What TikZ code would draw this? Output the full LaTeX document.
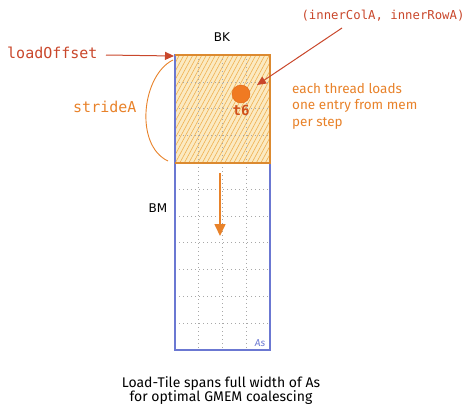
\documentclass[tikz,border=0pt]{standalone}
\usepackage{fontspec}
\setmainfont{Fira Sans}
\newfontfamily\monof{DejaVu Sans Mono}
\newfontfamily\sansf{DejaVu Sans}
\newfontfamily\handf{Fira Sans}
\usetikzlibrary{arrows.meta}
\definecolor{redor}{HTML}{C9472B}
\definecolor{orng}{HTML}{E8822A}
\definecolor{tilefill}{HTML}{FBEAC2}
\definecolor{hatchc}{HTML}{F0B050}
\definecolor{tileedge}{HTML}{DC8A30}
\definecolor{blueb}{HTML}{6B78D2}
\definecolor{gridc}{HTML}{A8A8A8}
\definecolor{dotfill}{HTML}{F07A22}
\definecolor{dotedge}{HTML}{E06414}
\definecolor{tsix}{HTML}{D0501A}
\tikzset{
  gridline/.style={gridc, line width=0.6pt, dash pattern=on 1pt off 3pt},
  monolabel/.style={font=\monof, inner sep=0pt},
  handtext/.style={font=\handf, inner sep=0pt},
  arr/.style={line width=1pt, -{Triangle[length=9pt,width=8pt]}},
}
\begin{document}
\begin{tikzpicture}[x=1pt,y=-1pt]
\useasboundingbox (0,0) rectangle (474,416);
% tile fill and hatch
\fill[tilefill] (175,55) rectangle (270,163);
\begin{scope}
  \clip (175,55) rectangle (270,163);
  \foreach \i in {0,...,45} {
    \draw[hatchc, line width=0.6pt] ({95+\i*4.5},170) -- ({95+\i*4.5+70},40);
  }
\end{scope}
% grid
\foreach \x in {198.75,222.5,246.25} \draw[gridline] (\x,55) -- (\x,350);
\foreach \k in {1,...,10} \draw[gridline] (175,{55+\k*26.82}) -- (270,{55+\k*26.82});
% outer rect
\draw[blueb, line width=1.3pt] (175,55) rectangle (270,350);
\draw[tileedge, line width=1.3pt] (175,55) -- (270,55) -- (270,163) -- (175,163);
% coordinates
\coordinate (tl) at (174,56);
\coordinate (curveS) at (173,60);
\coordinate (curveE) at (168,161);
\coordinate (dstart) at (220,173);
\coordinate (dend) at (220,236);
\coordinate (loS) at (106,55);
\coordinate (icS) at (342,28);
\coordinate (icE) at (257,85);
% circle
\node[circle, fill=dotfill, draw=dotedge, minimum size=18pt, inner sep=0pt] (dot) at (241,94) {};
\node[monolabel, font=\monof\bfseries\fontsize{14}{15}\selectfont, text=tsix] (t6) at (241,110) {t6};
% labels
\node[monolabel, font=\monof\fontsize{12.3}{14}\selectfont, text=redor] (icr) at (383,16) {(innerColA, innerRowA)};
\node[inner sep=0pt, font=\sansf\fontsize{12}{14}\selectfont] (bk) at (222,37) {BK};
\node[monolabel, anchor=west, font=\monof\fontsize{15}{16}\selectfont, text=redor] (lo) at (7,53) {loadOffset};
\node[monolabel, anchor=west, font=\monof\fontsize{15}{16}\selectfont, text=orng] (sa) at (73,107) {strideA};
\node[inner sep=0pt, font=\sansf\fontsize{12}{14}\selectfont] (bm) at (158,208) {BM};
\node[handtext, anchor=north west, align=left, font=\handf\fontsize{13.5}{16.5}\selectfont, text=orng] (each) at (292,83) {each thread loads\\one entry from mem\\per step};
\node[handtext, font=\handf\itshape\fontsize{10}{10}\selectfont, text=blueb] (as) at (260,343) {As};
\node[handtext, align=center, font=\handf\fontsize{14}{14}\selectfont] (cap) at (221,391) {Load-Tile spans full width of As\\for optimal GMEM coalescing};
% connectors
\draw[arr, redor] (loS) -- (tl);
\draw[arr, redor] (icS) -- (icE);
\draw[orng, line width=0.9pt] (curveS) .. controls (142,75) and (134,145) .. (curveE);
\draw[line width=1.6pt, orng, -{Triangle[length=12pt,width=11pt]}] (dstart) -- (dend);
\end{tikzpicture}
\end{document}
